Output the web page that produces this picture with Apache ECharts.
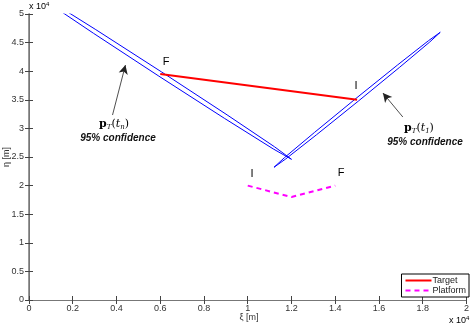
<!DOCTYPE html>
<html>
<head>
<meta charset="utf-8">
<script src="https://cdn.jsdelivr.net/npm/echarts@6/dist/echarts.min.js"></script>
<style>
	html, body { margin: 0; padding: 0; background: #fff; }
	#main { width: 472px; height: 325px; }
</style>
</head>
<body>
<div id="main"></div>
<script>
	// 目标航迹 (F -> I)
	let targetPts = [[6000, 39500], [15000, 35000]]
	// 平台航迹 (I -> F)
	let platformPts = [[10000, 20000], [12000, 18000], [14000, 20000]]
	// 95% 置信椭圆 p_T(t_n)
	let ellipseTn = [
		[12000, 24600], [11227, 26781], [9054, 32368], [6062, 39867], [3054, 47268], [835, 52587],
		[0, 54400], [773, 52219], [2946, 46632], [5938, 39133], [8946, 31732], [11165, 26413], [12000, 24600]
	]
	// 95% 置信椭圆 p_T(t_1)
	let ellipseT1 = [
		[18800, 46800], [18317, 45096], [16944, 40688], [15051, 34755], [13144, 28888], [11735, 24658],
		[11200, 23200], [11683, 24904], [13056, 29312], [14949, 35245], [16856, 41112], [18265, 45342], [18800, 46800]
	]
	// 指示箭头 [起点, 终点]
	let arrowTn = [[3818, 32338], [4409, 41078]]
	let arrowT1 = [[17090, 31988], [16180, 36184]]
	let xTicks = ['0', '0.2', '0.4', '0.6', '0.8', '1', '1.2', '1.4', '1.6', '1.8', '2']
	let yTicks = ['0', '0.5', '1', '1.5', '2', '2.5', '3', '3.5', '4', '4.5', '5']

	let font = 'Liberation Sans, Arial, sans-serif'
	let axisColor = '#444'

	let myChart = echarts.init(document.getElementById('main'))

	function axisBase(extra) {
		return Object.assign({
			type: 'value',
			axisLine: { show: true, lineStyle: { color: axisColor, width: 1 } },
			axisTick: { show: true, inside: true, length: 4, lineStyle: { color: axisColor } },
			splitLine: { show: false },
			axisLabel: { show: false }
		}, extra)
	}

	let pLabel = {
		b: { fontFamily: 'DejaVu Serif, serif', fontWeight: 'bold', fontSize: 11, color: '#222' },
		s: { fontFamily: 'DejaVu Serif, serif', fontStyle: 'italic', fontSize: 7, color: '#222', padding: [6, 0, 0, 0] },
		n: { fontFamily: 'DejaVu Serif, serif', fontSize: 11, color: '#222' },
		i: { fontFamily: 'DejaVu Serif, serif', fontStyle: 'italic', fontSize: 11, color: '#222' }
	}

	function textEl(x, y, text, style) {
		return {
			type: 'text', x: x, y: y, silent: true,
			style: Object.assign({ text: text, fill: '#000', font: '11px ' + font, align: 'center', verticalAlign: 'middle' }, style)
		}
	}

	myChart.setOption({
		animation: false,
		grid: { left: 29, right: 3, top: 14, bottom: 25 },
		legend: {
			data: ['Target', 'Platform'],
			orient: 'vertical',
			right: 3,
			bottom: 28,
			backgroundColor: '#fff',
			borderColor: '#000',
			borderWidth: 1,
			borderRadius: 0,
			padding: [2, 3, 2, 3],
			itemGap: 1,
			itemWidth: 26,
			itemHeight: 9,
			itemStyle: { opacity: 0 },
			textStyle: { fontFamily: font, fontSize: 9, color: '#222', padding: [0, 0, 0, -4] }
		},
		xAxis: [
			axisBase({
				min: 0, max: 20000, interval: 2000,
				axisLabel: {
					show: true, fontFamily: font, fontSize: 9, color: '#333', margin: 4,
					formatter: (v) => xTicks[Math.round(v / 2000)]
				}
			}),
			axisBase({ position: 'top', min: 0, max: 20000, interval: 2000, axisLine: { show: true, lineStyle: { color: '#777' } } })
		],
		yAxis: [
			axisBase({
				min: 0, max: 50000, interval: 5000,
				axisLine: { show: true, lineStyle: { color: '#777', width: 1.5 } },
				axisLabel: {
					show: true, fontFamily: font, fontSize: 9, color: '#333', margin: 5,
					formatter: (v) => yTicks[Math.round(v / 5000)]
				}
			}),
			axisBase({ position: 'right', min: 0, max: 50000, interval: 5000, axisLine: { show: true, lineStyle: { color: '#777' } } })
		],
		graphic: [
			// 坐标轴名称和倍数
			textEl(249, 318, 'ξ [m]', { font: '9px ' + font, fill: '#333' }),
			{
				type: 'text', x: 7, y: 157, rotation: Math.PI / 2, silent: true,
				style: { text: 'η [m]', fill: '#333', font: '9px ' + font, align: 'center', verticalAlign: 'middle' }
			},
			{
				type: 'text', x: 29, y: 7, silent: true,
				style: {
					text: '{a|x 10}{s|4}', verticalAlign: 'middle',
					rich: { a: { fontFamily: font, fontSize: 9, color: '#333' }, s: { fontFamily: font, fontSize: 6, color: '#333', padding: [0, 0, 5, 0] } }
				}
			},
			{
				type: 'text', x: 449, y: 321, silent: true,
				style: {
					text: '{a|x 10}{s|4}', verticalAlign: 'middle',
					rich: { a: { fontFamily: font, fontSize: 9, color: '#333' }, s: { fontFamily: font, fontSize: 6, color: '#333', padding: [0, 0, 5, 0] } }
				}
			},
			// 起止标记
			textEl(166, 62, 'F'),
			textEl(356, 86, 'I'),
			textEl(252, 174, 'I'),
			textEl(341, 173, 'F'),
			// 注释
			textEl(114, 124, '{b|p}{s|T}{n|(}{i|t}{s|n}{n|)}', { rich: pLabel }),
			textEl(118, 138, '95% confidence', { font: 'italic bold 10px ' + font, fill: '#111' }),
			textEl(419, 128, '{b|p}{s|T}{n|(}{i|t}{s|1}{n|)}', { rich: pLabel }),
			textEl(425, 142, '95% confidence', { font: 'italic bold 10px ' + font, fill: '#111' })
		],
		series: [
			{
				name: 'ellipseTn', type: 'line', data: ellipseTn, symbol: 'none', silent: true,
				lineStyle: { color: '#0000ff', width: 1 }, clip: true
			},
			{
				name: 'ellipseT1', type: 'line', data: ellipseT1, symbol: 'none', silent: true,
				lineStyle: { color: '#0000ff', width: 1 }, clip: true,
				markLine: {
					silent: true, symbol: ['none', 'arrow'], symbolSize: [7, 9],
					lineStyle: { color: '#222', width: 0.8, type: 'solid' },
					label: { show: false },
					data: [
						[{ coord: arrowTn[0] }, { coord: arrowTn[1] }],
						[{ coord: arrowT1[0] }, { coord: arrowT1[1] }]
					]
				}
			},
			{
				name: 'Target', type: 'line', data: targetPts, symbol: 'none', silent: true,
				lineStyle: { color: '#ff0000', width: 2 }, itemStyle: { color: '#ff0000' }
			},
			{
				name: 'Platform', type: 'line', data: platformPts, symbol: 'none', silent: true,
				lineStyle: { color: '#ff00ff', width: 2, type: [5, 4] }, itemStyle: { color: '#ff00ff' }
			}
		]
	})
</script>
</body>
</html>
